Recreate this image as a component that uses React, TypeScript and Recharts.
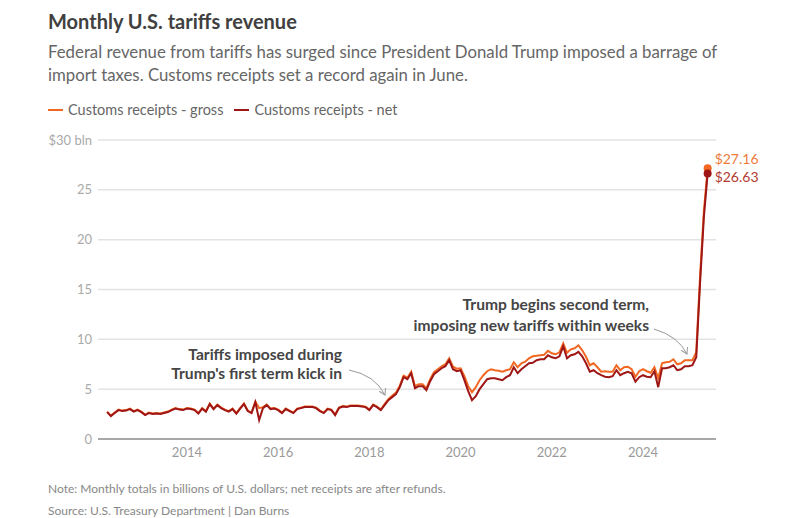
import React from "react";
import {
  LineChart,
  Line,
  XAxis,
  YAxis,
  CartesianGrid,
} from "recharts";

// Monthly customs receipts, billions of U.S. dollars, April 2012 - June 2025
const firstYear = 2012;
const firstMonth = 4;

const grossBln = [
  // 2012 (Apr-Dec)
  2.75, 2.35, 2.65, 2.95, 2.85, 2.9, 3.05, 2.8, 2.95,
  // 2013
  2.75, 2.45, 2.65, 2.55, 2.6, 2.55, 2.65, 2.75, 2.95, 3.1, 3.0, 2.95,
  // 2014
  3.1, 3.05, 2.95, 2.6, 3.1, 2.8, 3.55, 3.05, 3.45, 3.15, 2.95, 2.8,
  // 2015
  3.05, 2.6, 3.1, 3.55, 2.85, 2.65, 3.75, 3.1, 3.2, 3.45, 3.05, 3.1,
  // 2016
  2.95, 2.65, 3.05, 2.85, 2.65, 3.05, 3.15, 3.25, 3.25, 3.25, 3.15, 2.85,
  // 2017
  2.65, 3.05, 2.95, 2.45, 3.15, 3.3, 3.25, 3.35, 3.35, 3.35, 3.3, 3.25,
  // 2018
  2.95, 3.45, 3.25, 2.95, 3.5, 4.0, 4.35, 4.65, 5.35, 6.35, 6.15, 6.75,
  // 2019
  5.3, 5.5, 5.5, 5.1, 6.0, 6.7, 7.0, 7.3, 7.5, 8.1, 7.25, 7.05,
  // 2020
  7.1, 6.3, 5.3, 4.7, 5.2, 5.9, 6.4, 6.8, 7.0, 6.9, 6.85, 6.75,
  // 2021
  6.9, 7.0, 7.7, 7.2, 7.6, 7.75, 8.1, 8.3, 8.35, 8.4, 8.45, 8.85,
  // 2022
  8.6, 8.5, 8.7, 9.6, 8.65, 9.0, 9.1, 9.4, 8.9, 8.25, 7.4, 7.6,
  // 2023
  7.2, 6.75, 6.8, 6.75, 6.75, 7.4, 6.9, 7.2, 7.25, 7.0, 6.25, 6.8,
  // 2024
  7.0, 6.8, 6.65, 7.2, 6.1, 7.6, 7.7, 7.75, 8.0, 7.5, 7.6, 7.9,
  // 2025 (Jan-Jun)
  7.9, 7.9, 8.7, 16.3, 22.8, 27.16,
];

const netBln = [
  // 2012 (Apr-Dec)
  2.7, 2.3, 2.6, 2.9, 2.8, 2.85, 3.0, 2.75, 2.9,
  // 2013
  2.7, 2.4, 2.6, 2.5, 2.55, 2.5, 2.6, 2.7, 2.9, 3.05, 2.95, 2.9,
  // 2014
  3.05, 3.0, 2.9, 2.55, 3.05, 2.75, 3.5, 3.0, 3.4, 3.1, 2.9, 2.75,
  // 2015
  3.0, 2.55, 3.05, 3.5, 2.8, 2.6, 3.7, 1.9, 3.1, 3.4, 3.0, 3.05,
  // 2016
  2.9, 2.6, 3.0, 2.8, 2.6, 3.0, 3.1, 3.2, 3.2, 3.2, 3.1, 2.8,
  // 2017
  2.6, 3.0, 2.9, 2.4, 3.1, 3.25, 3.2, 3.3, 3.3, 3.3, 3.25, 3.2,
  // 2018
  2.9, 3.4, 3.2, 2.9, 3.4, 3.9, 4.2, 4.5, 5.2, 6.2, 6.0, 6.6,
  // 2019
  5.1, 5.3, 5.3, 4.9, 5.8, 6.5, 6.8, 7.1, 7.3, 7.9, 7.0, 6.8,
  // 2020
  6.9, 5.9, 4.8, 3.9, 4.3, 5.0, 5.5, 6.0, 6.1, 6.1, 6.0, 5.9,
  // 2021
  6.2, 6.4, 7.2, 6.6, 7.0, 7.3, 7.6, 7.65, 7.9, 8.0, 8.0, 8.4,
  // 2022
  8.2, 8.1, 8.3, 9.3, 8.1, 8.4, 8.5, 8.75, 8.3, 7.6, 6.75, 6.9,
  // 2023
  6.6, 6.4, 6.25, 6.2, 6.3, 6.9, 6.4, 6.6, 6.75, 6.6, 5.75, 6.2,
  // 2024
  6.4, 6.25, 6.2, 6.8, 5.2, 7.1, 7.1, 7.2, 7.4, 6.9, 7.0, 7.3,
  // 2025 (Jan-Jun)
  7.3, 7.4, 8.2, 15.6, 22.2, 26.63,
];

const yearTicks = [2014, 2016, 2018, 2020, 2022, 2024];
const valueTicks = [0, 5, 10, 15, 20, 25, 30];

const GROSS = "#f26722";
const NET = "#9e1616";
const FONT = "Lato, 'Noto Sans', sans-serif";

const data = netBln.map((net, i) => ({
  t: firstYear + (firstMonth - 1 + i) / 12,
  gross: grossBln[i],
  net,
}));
const last = data.length - 1;

const endDot = (color: string) => (p: any) =>
  p.index === last ? (
    <circle key={`end-${p.index}`} cx={p.cx} cy={p.cy} r={4} fill={color} />
  ) : (
    <g key={`d-${p.index}`} />
  );

const endLabel = (color: string, dy: number) => (p: any) =>
  p.index === last ? (
    <text
      x={p.x + 7}
      y={p.y + dy}
      fill={color}
      fontSize={14}
      fontFamily={FONT}
      dominantBaseline="middle"
    >
      ${Number(p.value).toFixed(2)}
    </text>
  ) : null;

const App: React.FC = () => {
  return (
    <div
      style={{
        position: "absolute",
        left: 0,
        top: 0,
        width: 791,
        height: 518,
        background: "#fff",
        fontFamily: FONT,
        overflow: "hidden",
      }}
    >
      <div style={{ position: "absolute", left: 48, top: 9, fontSize: 20, fontWeight: 700, color: "#404040" }}>
        Monthly U.S. tariffs revenue
      </div>
      <div style={{ position: "absolute", left: 48, top: 41, width: 740, fontSize: 16.8, lineHeight: "22.5px", color: "#666" }}>
        Federal revenue from tariffs has surged since President Donald Trump imposed a barrage of
        <br />
        import taxes. Customs receipts set a record again in June.
      </div>

      {/* legend */}
      <div style={{ position: "absolute", left: 48, top: 101, fontSize: 14.5, color: "#666", display: "flex", alignItems: "center" }}>
        <span style={{ width: 15, height: 2, background: GROSS, marginRight: 5 }} />
        <span style={{ marginRight: 11 }}>Customs receipts - gross</span>
        <span style={{ width: 15, height: 2, background: NET, marginRight: 5 }} />
        <span>Customs receipts - net</span>
      </div>

      <div style={{ position: "absolute", left: 0, top: 0 }}>
        <LineChart
          width={791}
          height={518}
          data={data}
          margin={{ top: 140, right: 75, bottom: 49, left: 48 }}
        >
          <CartesianGrid vertical={false} stroke="#e3e3e3" strokeWidth={1.5} />
          <XAxis
            dataKey="t"
            type="number"
            domain={[2012.05, 2025.6]}
            ticks={yearTicks}
            height={30}
            tickLine={false}
            axisLine={{ stroke: "#a8a8a8", strokeWidth: 2 }}
            tickMargin={3}
            tick={{ fill: "#9a9a9a", fontSize: 13, fontFamily: FONT }}
          />
          <YAxis
            type="number"
            domain={[0, 30]}
            ticks={valueTicks}
            width={50}
            tickLine={false}
            axisLine={false}
            tickMargin={0}
            tick={{ fill: "#aaaaaa", fontSize: 13, fontFamily: FONT }}
            tickFormatter={(v: number) => (v === 30 ? "$30 bln" : String(v))}
          />
          <Line
            type="linear"
            dataKey="gross"
            stroke={GROSS}
            strokeWidth={2}
            dot={endDot(GROSS)}
            activeDot={false}
            label={endLabel("#ee7b3c", -8)}
            isAnimationActive={false}
          />
          <Line
            type="linear"
            dataKey="net"
            stroke={NET}
            strokeWidth={2}
            dot={endDot(NET)}
            activeDot={false}
            label={endLabel("#b33a32", 5)}
            isAnimationActive={false}
          />
        </LineChart>
      </div>

      {/* annotations */}
      <svg
        width={791}
        height={518}
        style={{ position: "absolute", left: 0, top: 0, pointerEvents: "none" }}
      >
        <defs>
          <marker id="head" markerWidth="8" markerHeight="8" refX="6" refY="4" orient="auto">
            <path d="M0,0.5 L6,4 L0,7.5" fill="none" stroke="#999" strokeWidth={1} />
          </marker>
        </defs>
        <g fontFamily={FONT} fontSize={15.6} fontWeight={700} fill="#454545" textAnchor="end">
          <text x={342} y={360}>Tariffs imposed during</text>
          <text x={342} y={379}>Trump's first term kick in</text>
          <text x={649} y={310}>Trump begins second term,</text>
          <text x={649} y={331}>imposing new tariffs within weeks</text>
        </g>
        <path d="M349,370 Q375,375 385,395" fill="none" stroke="#999" strokeWidth={1} markerEnd="url(#head)" />
        <path d="M654,329 Q678,336 687,354" fill="none" stroke="#999" strokeWidth={1} markerEnd="url(#head)" />
      </svg>

      <div style={{ position: "absolute", left: 48, top: 482, fontSize: 12, lineHeight: "14px", color: "#888" }}>
        Note: Monthly totals in billions of U.S. dollars; net receipts are after refunds.
      </div>
      <div style={{ position: "absolute", left: 48, top: 504, fontSize: 12, lineHeight: "14px", color: "#888" }}>
        Source: U.S. Treasury Department | Dan Burns
      </div>
    </div>
  );
};

export default App;
